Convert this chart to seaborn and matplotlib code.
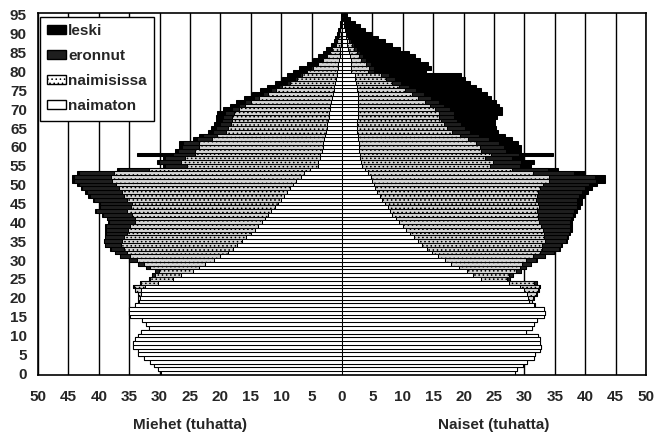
import pandas as pd
import numpy as np
import seaborn as sns
import matplotlib.pyplot as plt
from matplotlib.patches import Patch

ages = list(range(96))

men_total = [29.8, 30.2, 31.0, 31.5, 32.6, 33.5, 33.5, 34.3, 34.3, 34.0,
             33.6, 33.1, 31.8, 32.3, 32.9, 34.9, 35.1, 35.1, 34.0, 33.5,
             33.5, 33.6, 34.1, 34.3, 33.2, 31.8, 31.2, 30.7, 32.3, 33.5,
             35.1, 36.5, 37.3, 38.1, 39.0, 39.2, 39.0, 38.9, 38.9, 38.9,
             38.5, 38.7, 39.5, 40.6, 40.0, 40.0, 41.0, 41.7, 42.2, 43.0,
             43.6, 44.4, 44.4, 43.6, 37.0, 29.5, 30.5, 29.5, 33.8, 27.5,
             26.8, 26.8, 24.5, 23.5, 22.0, 21.5, 21.0, 20.8, 20.8, 20.5,
             19.5, 18.5, 17.5, 16.2, 14.8, 13.5, 12.4, 11.0, 9.8, 9.0,
             8.0, 7.0, 5.8, 4.7, 3.9, 3.2, 2.6, 1.8, 1.4, 1.1,
             0.8, 0.6, 0.4, 0.3, 0.2, 0.15]
men_naimaton = [29.8, 30.2, 31.0, 31.5, 32.6, 33.5, 33.5, 34.3, 34.3, 34.0,
                33.6, 33.1, 31.8, 32.3, 32.9, 34.9, 35.1, 35.1, 34.0, 33.4,
                33.2, 33.0, 33.0, 32.4, 30.2, 27.8, 26.5, 24.5, 23.5, 22.5,
                21.0, 20.0, 18.8, 18.0, 17.3, 16.5, 15.8, 15.0, 14.3, 13.8,
                13.2, 12.6, 12.2, 11.6, 11.0, 10.5, 10.0, 9.5, 9.0, 8.5,
                8.0, 7.5, 6.8, 6.2, 5.2, 3.9, 3.9, 3.6, 3.6, 3.3,
                3.2, 3.1, 2.9, 2.8, 2.6, 2.5, 2.4, 2.3, 2.2, 2.1,
                2.0, 1.9, 1.8, 1.7, 1.5, 1.4, 1.3, 1.2, 1.0, 0.9,
                0.8, 0.7, 0.6, 0.5, 0.4, 0.35, 0.3, 0.2, 0.15, 0.12,
                0.1, 0.08, 0.05, 0.04, 0.03, 0.02]
men_eronnut = [0, 0, 0, 0, 0, 0, 0, 0, 0, 0,
               0, 0, 0, 0, 0, 0, 0, 0, 0, 0,
               0, 0, 0.05, 0.1, 0.2, 0.3, 0.4, 0.6, 0.8, 1.0,
               1.3, 1.6, 1.9, 2.2, 2.6, 2.9, 3.1, 3.4, 3.7, 4.0,
               4.3, 4.5, 4.8, 5.1, 5.2, 5.3, 5.5, 5.7, 5.8, 6.0,
               6.1, 6.2, 6.0, 5.7, 4.8, 3.6, 3.6, 3.3, 3.6, 2.9,
               2.7, 2.6, 2.4, 2.3, 2.1, 1.9, 1.8, 1.6, 1.5, 1.4,
               1.2, 1.1, 1.0, 0.9, 0.8, 0.7, 0.6, 0.5, 0.4, 0.35,
               0.3, 0.25, 0.2, 0.15, 0.1, 0.08, 0.06, 0.04, 0.03, 0.02,
               0.01, 0, 0, 0, 0, 0]
men_leski = [0, 0, 0, 0, 0, 0, 0, 0, 0, 0,
             0, 0, 0, 0, 0, 0, 0, 0, 0, 0,
             0, 0, 0, 0, 0, 0, 0, 0, 0, 0,
             0.02, 0.02, 0.03, 0.03, 0.04, 0.05, 0.05, 0.06, 0.07, 0.08,
             0.1, 0.1, 0.12, 0.14, 0.15, 0.17, 0.2, 0.22, 0.25, 0.28,
             0.32, 0.36, 0.4, 0.42, 0.4, 0.35, 0.4, 0.42, 6.0, 0.5,
             0.55, 0.6, 0.65, 0.7, 0.75, 0.85, 0.95, 1.05, 1.15, 1.3,
             1.4, 1.5, 1.6, 1.7, 1.8, 1.9, 2.0, 2.0, 2.0, 2.1,
             2.0, 1.9, 1.7, 1.5, 1.3, 1.1, 0.95, 0.7, 0.55, 0.45,
             0.35, 0.27, 0.2, 0.15, 0.1, 0.08]

# naiset (tuhatta)
women_total = [28.5, 28.8, 29.8, 30.5, 31.5, 31.8, 32.5, 32.7, 32.5, 32.6,
               32.3, 30.2, 31.3, 31.5, 32.0, 33.2, 33.4, 33.3, 31.8, 31.2,
               31.5, 32.0, 32.4, 32.6, 32.0, 27.7, 28.2, 29.5, 30.3, 31.0,
               32.0, 33.4, 35.0, 35.8, 36.1, 37.0, 37.2, 37.5, 37.8, 37.8,
               37.8, 38.0, 38.4, 38.6, 39.2, 39.4, 39.4, 39.8, 40.5, 41.1,
               42.0, 43.3, 43.3, 40.0, 35.6, 31.0, 31.5, 30.0, 34.7, 29.5,
               29.5, 29.0, 28.0, 26.8, 25.7, 25.3, 25.2, 25.2, 25.5, 26.3,
               26.3, 25.8, 25.4, 24.5, 23.8, 22.8, 22.0, 21.0, 20.3, 19.5,
               13.8, 14.6, 14.2, 12.8, 12.0, 11.0, 9.5, 8.2, 7.0, 6.0,
               5.0, 3.8, 3.0, 2.2, 1.3, 0.8]
women_naimaton = [28.5, 28.8, 29.8, 30.5, 31.5, 31.8, 32.5, 32.7, 32.5, 32.6,
                  32.3, 30.2, 31.3, 31.5, 32.0, 33.2, 33.4, 33.3, 31.6, 30.7,
                  30.6, 30.4, 30.0, 29.2, 27.5, 22.8, 21.5, 20.5, 19.3, 18.0,
                  17.0, 15.8, 14.8, 13.9, 13.2, 12.5, 11.8, 11.2, 10.6, 10.0,
                  9.4, 8.9, 8.3, 7.9, 7.5, 7.0, 6.6, 6.2, 5.8, 5.5,
                  5.2, 5.0, 4.8, 4.3, 3.8, 3.3, 3.2, 3.0, 3.0, 2.8,
                  2.8, 2.8, 2.7, 2.6, 2.5, 2.5, 2.5, 2.5, 2.6, 2.7,
                  2.7, 2.7, 2.7, 2.7, 2.6, 2.5, 2.4, 2.3, 2.2, 2.1,
                  1.5, 1.5, 1.5, 1.4, 1.3, 1.2, 1.0, 0.9, 0.8, 0.7,
                  0.6, 0.45, 0.35, 0.25, 0.15, 0.1]
women_eronnut = [0, 0, 0, 0, 0, 0, 0, 0, 0, 0,
                 0, 0, 0, 0, 0, 0, 0, 0, 0, 0,
                 0.05, 0.1, 0.15, 0.25, 0.35, 0.5, 0.7, 0.9, 1.1, 1.4,
                 1.7, 2.0, 2.4, 2.8, 3.1, 3.5, 3.8, 4.1, 4.5, 4.8,
                 5.1, 5.4, 5.7, 6.0, 6.2, 6.5, 6.7, 6.9, 7.2, 7.4,
                 7.6, 7.8, 7.6, 6.8, 5.8, 4.8, 4.7, 4.4, 4.6, 4.0,
                 3.9, 3.7, 3.5, 3.2, 3.0, 2.9, 2.8, 2.7, 2.6, 2.6,
                 2.5, 2.4, 2.2, 2.1, 2.0, 1.8, 1.7, 1.5, 1.4, 1.3,
                 0.9, 0.9, 0.8, 0.7, 0.6, 0.5, 0.4, 0.3, 0.3, 0.2,
                 0.15, 0.1, 0.08, 0.05, 0.03, 0.02]
women_leski = [0, 0, 0, 0, 0, 0, 0, 0, 0, 0,
               0, 0, 0, 0, 0, 0, 0, 0, 0, 0,
               0, 0, 0, 0, 0, 0, 0, 0, 0, 0,
               0.05, 0.06, 0.07, 0.08, 0.1, 0.15, 0.2, 0.2, 0.25, 0.3,
               0.35, 0.4, 0.45, 0.5, 0.6, 0.7, 0.8, 0.9, 1.0, 1.1,
               1.3, 1.5, 1.7, 1.8, 1.8, 1.8, 2.0, 2.1, 5.6, 2.6,
               2.9, 3.2, 3.8, 4.2, 4.6, 5.1, 5.7, 6.3, 7.0, 7.8,
               8.5, 9.0, 9.5, 9.9, 10.3, 10.6, 11.0, 11.3, 11.6, 11.8,
               8.6, 9.3, 9.5, 8.9, 8.6, 8.1, 7.1, 6.3, 5.5, 4.8,
               4.0, 3.1, 2.5, 1.8, 1.1, 0.65]

df = pd.DataFrame({'ika': ages,
                   'm_tot': men_total, 'm_u': men_naimaton, 'm_d': men_eronnut, 'm_w': men_leski,
                   'f_tot': women_total, 'f_u': women_naimaton, 'f_d': women_eronnut, 'f_w': women_leski})

# outer edge of each stacked band (naimaton | naimisissa | eronnut | leski)
df['m_c3'] = df['m_tot'] - df['m_w']
df['m_c2'] = df['m_c3'] - df['m_d']
df['f_c3'] = df['f_tot'] - df['f_w']
df['f_c2'] = df['f_c3'] - df['f_d']

sns.set_style("white")
plt.rcParams['font.family'] = ['Liberation Sans', 'DejaVu Sans']
plt.rcParams['font.weight'] = 'bold'
plt.rcParams['hatch.linewidth'] = 0.6
plt.rcParams['hatch.color'] = 'black'

fig = plt.figure(figsize=(6.68, 4.34), dpi=100)
ax = fig.add_axes([0.0569, 0.1359, 0.9102, 0.8341])

styles = {
    'leski': dict(color='black', hatch=None),
    'eronnut': dict(color='#1e1e1e', hatch=None),
    'naimisissa': dict(color='#d4d4d4', hatch='....'),
    'naimaton': dict(color='white', hatch=None),
}
layers = [('leski', 'tot'), ('eronnut', 'c3'), ('naimisissa', 'c2'), ('naimaton', 'u')]

for name, col in layers:
    st = styles[name]
    for sex, sign in (('m', -1), ('f', 1)):
        sns.barplot(x=sign * df[sex + '_' + col], y=df['ika'], orient='h', ax=ax,
                    color=st['color'], saturation=1, width=1.0, errorbar=None,
                    edgecolor='black', linewidth=0.75, hatch=st['hatch'])

ax.set_ylim(-0.5, 95.5)
ax.set_xlim(-50, 50)
ax.set_yticks(range(0, 96, 5))
ax.set_yticklabels([str(a) for a in range(0, 96, 5)])
ax.set_xticks(range(-50, 51, 5))
ax.set_xticklabels([str(abs(v)) for v in range(-50, 51, 5)])
ax.set_xlabel('')
ax.set_ylabel('')
ax.tick_params(axis='both', length=0, labelsize=11)
ax.tick_params(axis='x', pad=11)
ax.tick_params(axis='y', pad=8)

ax.set_axisbelow(True)
ax.xaxis.grid(True, color='black', linewidth=1.0)
ax.yaxis.grid(False)
for sp in ax.spines.values():
    sp.set_visible(True)
    sp.set_color('black')
    sp.set_linewidth(1.2)

ax.text(-25, -0.138, 'Miehet (tuhatta)', transform=ax.get_xaxis_transform(),
        ha='center', va='center', fontsize=11, fontweight='bold')
ax.text(25, -0.138, 'Naiset (tuhatta)', transform=ax.get_xaxis_transform(),
        ha='center', va='center', fontsize=11, fontweight='bold')

handles = [Patch(facecolor='black', edgecolor='black', label='leski'),
           Patch(facecolor='#1e1e1e', edgecolor='black', label='eronnut'),
           Patch(facecolor='white', edgecolor='black', hatch='....', label='naimisissa'),
           Patch(facecolor='white', edgecolor='black', label='naimaton')]
leg = ax.legend(handles=handles, loc='upper left', bbox_to_anchor=(0.003, 0.99),
                borderaxespad=0, frameon=True, fancybox=False, framealpha=1,
                edgecolor='black', fontsize=11, handlelength=1.2, handleheight=0.55,
                handletextpad=0.15, labelspacing=0.72, borderpad=0.5)
leg.get_frame().set_linewidth(1.0)
for t in leg.get_texts():
    t.set_fontweight('bold')

fig.savefig('out.png', dpi=100)
